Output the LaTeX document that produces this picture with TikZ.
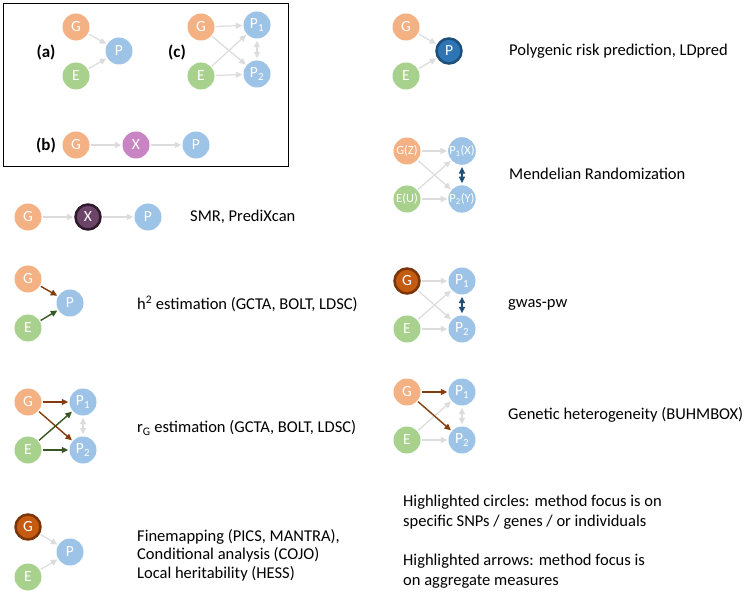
\documentclass[tikz,border=0pt]{standalone}
\usepackage{fontspec}
\setmainfont{Carlito}
\usetikzlibrary{arrows.meta}
\definecolor{cor}{HTML}{F4B183}
\definecolor{cgr}{HTML}{A9D18E}
\definecolor{cbl}{HTML}{9DC3E6}
\definecolor{cpu}{HTML}{C984C4}
\definecolor{lgr}{HTML}{DCDCDC}
\definecolor{dxf}{HTML}{6B4468}
\definecolor{dxb}{HTML}{2E1A2C}
\definecolor{dpf}{HTML}{2E75B6}
\definecolor{dpb}{HTML}{1F4E79}
\definecolor{dgf}{HTML}{C55A11}
\definecolor{dgb}{HTML}{7A3608}
\definecolor{brw}{HTML}{843C0C}
\definecolor{dgn}{HTML}{385723}
\definecolor{dbl}{HTML}{1F4E79}
\tikzset{
  cnode/.style={circle, minimum size=27pt, inner sep=0pt, text=white, font=\fontsize{15.5}{15.5}\selectfont},
  gnode/.style={cnode, fill=cor},
  enode/.style={cnode, fill=cgr},
  pnode/.style={cnode, fill=cbl},
  xnode/.style={cnode, fill=cpu},
  dgnode/.style={cnode, fill=dgf, draw=dgb, line width=2.5pt, minimum size=25pt},
  dpnode/.style={cnode, fill=dpf, draw=dpb, line width=2.5pt, minimum size=25pt},
  dxnode/.style={cnode, fill=dxf, draw=dxb, line width=2.5pt, minimum size=25pt},
  smallt/.style={font=\fontsize{12.5}{12.5}\selectfont},
  ga/.style={draw=lgr, line width=1.2pt, -{Triangle[length=6.5pt,width=6pt]}, shorten >=1pt, shorten <=1pt},
  gda/.style={draw=lgr, line width=1.2pt, {Triangle[length=6.5pt,width=6pt]}-{Triangle[length=6.5pt,width=6pt]}, shorten >=2pt, shorten <=2pt},
  ba/.style={draw=brw, line width=1.4pt, -{Triangle[length=6.5pt,width=6pt]}, shorten >=1pt, shorten <=1pt},
  na/.style={draw=dgn, line width=1.4pt, -{Triangle[length=6.5pt,width=6pt]}, shorten >=1pt, shorten <=1pt},
  da/.style={draw=dbl, line width=1.6pt, {Triangle[length=6.5pt,width=6pt]}-{Triangle[length=6.5pt,width=6pt]}, shorten >=2pt, shorten <=2pt},
  desc/.style={anchor=west, align=left, font=\fontsize{16.5}{18.5}\selectfont, inner sep=0pt},
  plab/.style={font=\bfseries\fontsize{17}{17}\selectfont, inner sep=0pt}
}
\newcommand{\Pone}{P\textsubscript{1}}
\newcommand{\Ptwo}{P\textsubscript{2}}
\begin{document}
\begin{tikzpicture}[x=1pt,y=-1pt]
\useasboundingbox (0,0) rectangle (745,596);
\fill[white] (0,0) rectangle (745,596);
% box
\draw[line width=1pt] (3,4) rectangle (288,167);
% (a)
\node[plab] (la) at (46,52) {(a)};
\node[gnode] (aG) at (76,27) {G};
\node[enode] (aE) at (76,76) {E};
\node[pnode] (aP) at (119,51) {P};
\draw[ga] (aG) -- (aP);
\draw[ga] (aE) -- (aP);
% (c)
\node[plab] (lc) at (177,52) {(c)};
\node[gnode] (cG) at (201,27) {G};
\node[enode] (cE) at (201,76) {E};
\node[pnode] (cP1) at (257,25) {\Pone};
\node[pnode] (cP2) at (257,74) {\Ptwo};
\draw[ga] (cG) -- (cP1);
\draw[ga] (cG) -- (cP2);
\draw[ga] (cE) -- (cP1);
\draw[ga] (cE) -- (cP2);
\draw[gda] (cP1) -- (cP2);
% (b)
\node[plab] (lb) at (46,145) {(b)};
\node[gnode] (bG) at (76,145) {G};
\node[xnode] (bX) at (136,145) {X};
\node[pnode] (bP) at (196,145) {P};
\draw[ga] (bG) -- (bX);
\draw[ga] (bX) -- (bP);
% Polygenic
\node[gnode] (rG) at (406,27) {G};
\node[enode] (rE) at (406,76) {E};
\node[dpnode] (rP) at (449,51) {P};
\draw[ga] (rG) -- (rP);
\draw[ga] (rE) -- (rP);
\node[desc] (t1) at (509,51) {Polygenic risk prediction, LDpred};
% Mendelian
\node[gnode, smallt] (mG) at (407,151) {G(Z)};
\node[enode, smallt] (mE) at (407,199) {E(U)};
\node[pnode, smallt] (mP1) at (462,151) {P\textsubscript{1}(X)};
\node[pnode, smallt] (mP2) at (462,199) {P\textsubscript{2}(Y)};
\draw[ga] (mG) -- (mP1);
\draw[ga] (mG) -- (mP2);
\draw[ga] (mE) -- (mP1);
\draw[ga] (mE) -- (mP2);
\draw[da] (mP1) -- (mP2);
\node[desc] (t2) at (509,174) {Mendelian Randomization};
% gwas-pw
\node[dgnode] (wG) at (407,281) {G};
\node[enode] (wE) at (407,329) {E};
\node[pnode] (wP1) at (462,281) {\Pone};
\node[pnode] (wP2) at (462,329) {\Ptwo};
\draw[ga] (wG) -- (wP1);
\draw[ga] (wG) -- (wP2);
\draw[ga] (wE) -- (wP1);
\draw[ga] (wE) -- (wP2);
\draw[da] (wP1) -- (wP2);
\node[desc] (t3) at (508,305) {gwas-pw};
% Genetic heterogeneity
\node[gnode] (hG) at (407,392) {G};
\node[enode] (hE) at (407,440) {E};
\node[pnode] (hP1) at (462,392) {\Pone};
\node[pnode] (hP2) at (462,440) {\Ptwo};
\draw[ga] (hE) -- (hP1);
\draw[ga] (hE) -- (hP2);
\draw[gda] (hP1) -- (hP2);
\draw[ba] (hG) -- (hP1);
\draw[ba] (hG) -- (hP2);
\node[desc] (t4) at (508,415) {Genetic heterogeneity (BUHMBOX)};
% SMR
\node[gnode] (sG) at (28,217) {G};
\node[dxnode] (sX) at (88,217) {X};
\node[pnode] (sP) at (148,217) {P};
\draw[ga] (sG) -- (sX);
\draw[ga] (sX) -- (sP);
\node[desc] (t5) at (190,217) {SMR, PrediXcan};
% h2
\node[gnode] (eG) at (28,279) {G};
\node[enode] (eE) at (28,328) {E};
\node[pnode] (eP) at (70,303) {P};
\draw[ba] (eG) -- (eP);
\draw[na] (eE) -- (eP);
\node[desc] (t6) at (137,304) {h\textsuperscript{2} estimation (GCTA, BOLT, LDSC)};
% rG
\node[gnode] (gG) at (28,402) {G};
\node[enode] (gE) at (28,450) {E};
\node[pnode] (gP1) at (83,402) {\Pone};
\node[pnode] (gP2) at (83,450) {\Ptwo};
\draw[gda] (gP1) -- (gP2);
\draw[ba] (gG) -- (gP1);
\draw[ba] (gG) -- (gP2);
\draw[na] (gE) -- (gP1);
\draw[na] (gE) -- (gP2);
\node[desc] (t7) at (137,428) {r\textsubscript{G} estimation (GCTA, BOLT, LDSC)};
% Finemapping
\node[desc] (t8) at (137,555) {Finemapping (PICS, MANTRA),\\Conditional analysis (COJO)\\Local heritability (HESS)};
\node[dgnode] (fG) at (28,527) {G};
\node[enode] (fE) at (28,577) {E};
\node[pnode] (fP) at (70,552) {P};
\draw[ga] (fG) -- (fP);
\draw[ga] (fE) -- (fP);
% legend text
\node[desc, font=\fontsize{16.5}{19.6}\selectfont] (t9) at (403,541.5) {Highlighted circles: method focus is on\\specific SNPs / genes / or individuals\\[19.6pt]Highlighted arrows: method focus is\\on aggregate measures};
\end{tikzpicture}
\end{document}
